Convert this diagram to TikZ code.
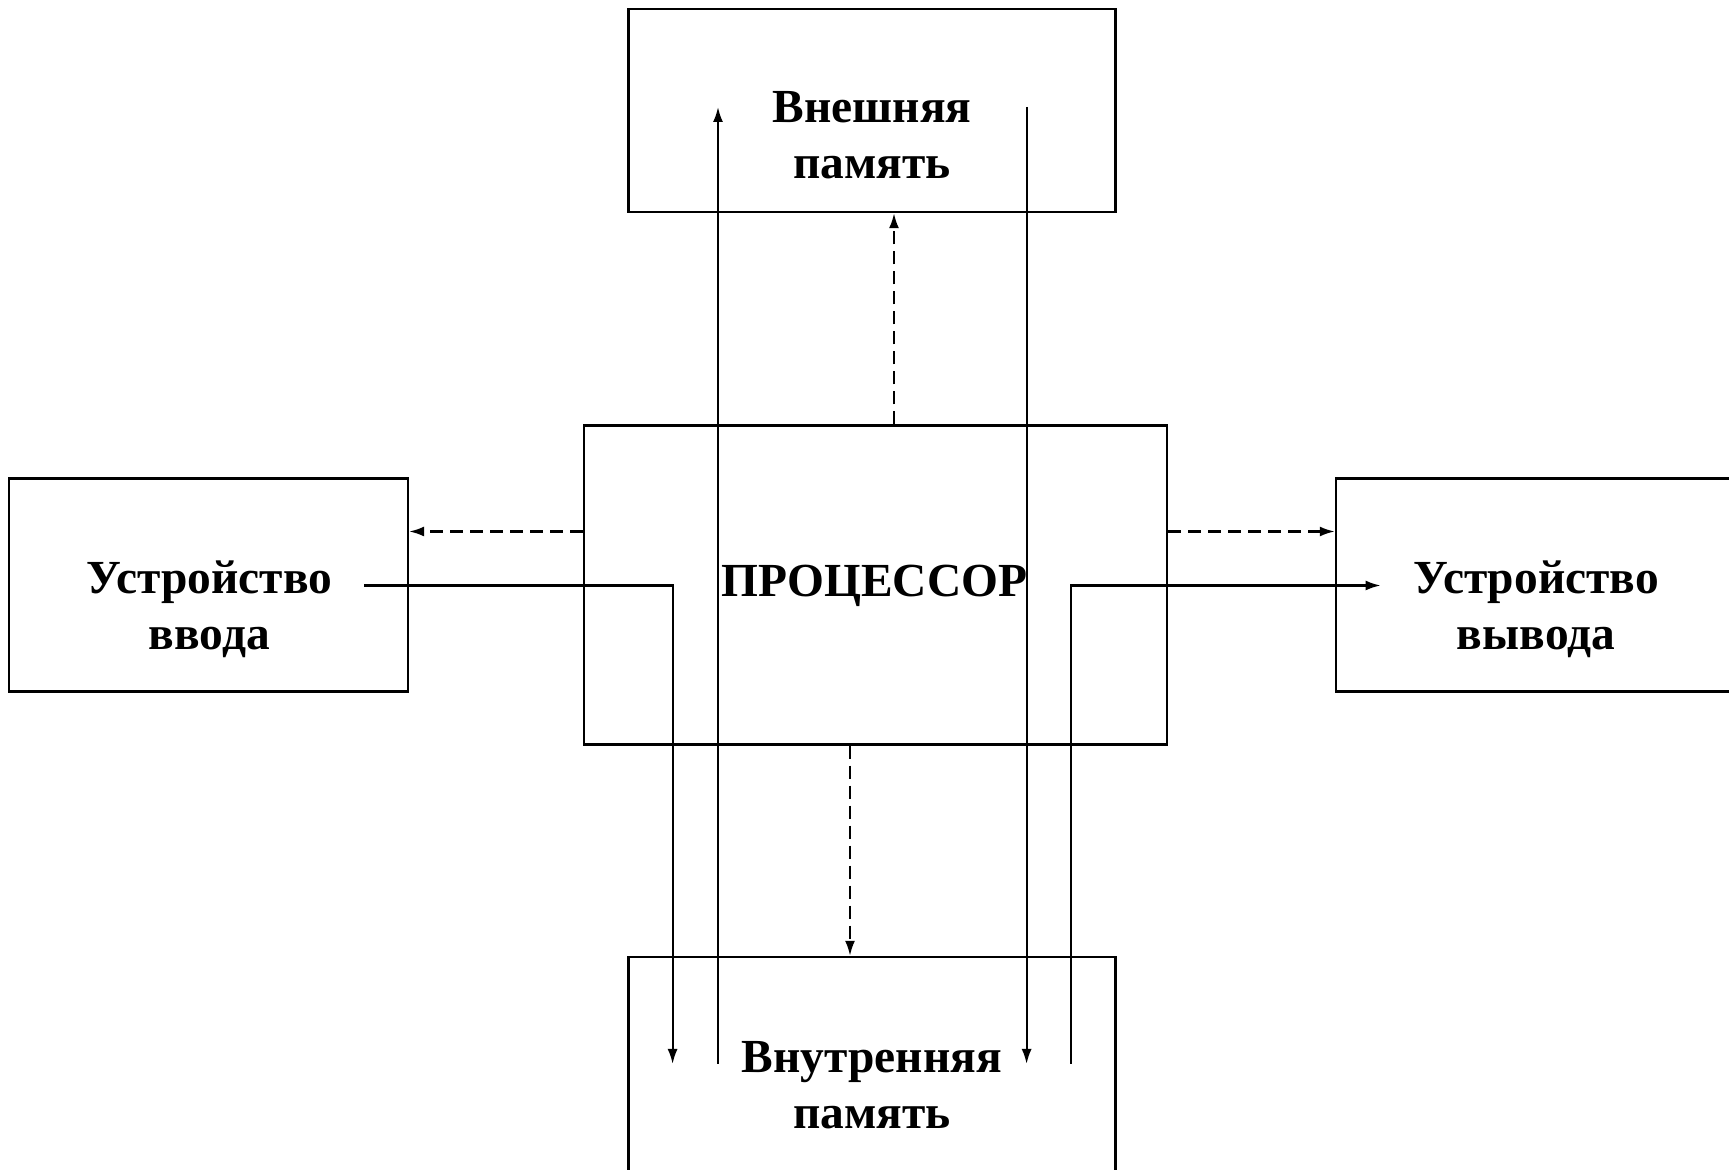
\documentclass[tikz,border=0pt]{standalone}
\usepackage{fontspec}
\setmainfont{Liberation Serif}
\usetikzlibrary{arrows.meta}

\begin{document}
\begin{tikzpicture}[x=1cm, y=1cm,
      >={Latex[length=1.5mm,width=1mm]},
      box/.style={draw, line width=0.7pt, inner sep=0pt},
      lbl/.style={font=\fontsize{13.5}{16}\selectfont\bfseries, align=center, inner sep=0pt},
      edge/.style={->, line width=0.6pt},
      dedge/.style={->, line width=0.6pt, dash pattern=on 1.3mm off 0.7mm}]

    \useasboundingbox (0,0) rectangle (17.29,11.69);
    \clip (0,0) rectangle (17.29,11.69);

    \node[box, minimum width=4.87cm, minimum height=2.03cm] (ext) at (8.72,10.585) {};
    \node[box, minimum width=5.83cm, minimum height=3.19cm] (cpu) at (8.755,5.84) {};
    \node[box, minimum width=3.99cm, minimum height=2.13cm] (in)  at (2.084,5.84) {};
    \node[box, minimum width=4.20cm, minimum height=2.13cm] (out) at (15.46,5.84) {};
    \node[box, minimum width=4.87cm, minimum height=2.50cm] (int) at (8.72,0.87) {};

    \node[lbl] (extT) at (8.72,10.34) {Внешняя\\память};
    \node[lbl, anchor=base] (cpuT) at (8.745,5.72) {ПРОЦЕССОР};
    \node[lbl] (inT)  at (2.095,5.60) {Устройство\\ввода};
    \node[lbl] (outT) at (15.36,5.60) {Устройство\\вывода};
    \node[lbl] (intT) at (8.72,0.84) {Внутренняя\\память};

    \coordinate (inS)  at (3.64,5.835);
    \coordinate (inE)  at (6.726,1.05);
    \coordinate (upS)  at (7.18,1.05);
    \coordinate (upE)  at (7.18,10.62);
    \coordinate (dnS)  at (10.266,10.62);
    \coordinate (dnE)  at (10.266,1.05);
    \coordinate (outS) at (10.707,1.05);
    \coordinate (outE) at (13.806,5.835);
    \coordinate (vx1)  at (8.94,0);
    \coordinate (vx2)  at (8.50,0);
    \coordinate (hy)   at (0,6.375);

    \draw[dedge] (cpu.north -| vx1) -- (ext.south -| vx1);
    \draw[dedge] (cpu.south -| vx2) -- (int.north -| vx2);
    \draw[dedge] (cpu.west |- hy) -- (in.east |- hy);
    \draw[dedge] (cpu.east |- hy) -- (out.west |- hy);

    \draw[edge] (inS) -| (inE);
    \draw[edge] (upS) -- (upE);
    \draw[edge] (dnS) -- (dnE);
    \draw[edge] (outS) |- (outE);
  \end{tikzpicture}
\end{document}
